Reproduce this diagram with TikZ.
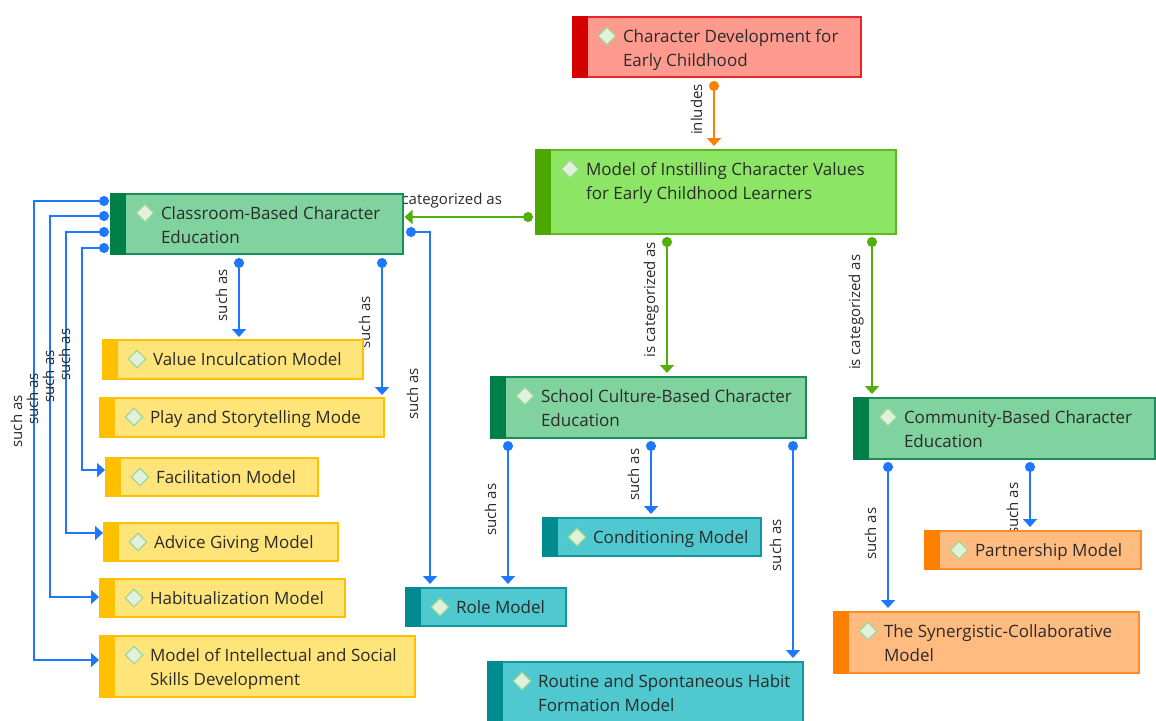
\documentclass[tikz,border=0pt]{standalone}
\usepackage{fontspec}
\setmainfont{Open Sans}
\usetikzlibrary{arrows.meta,calc}
\definecolor{txt}{HTML}{2B2B2B}
\definecolor{redfill}{HTML}{FF9A8E}
\definecolor{redstripe}{HTML}{D50000}
\definecolor{redline}{HTML}{E8262B}
\definecolor{lgfill}{HTML}{8CE564}
\definecolor{lgstripe}{HTML}{4CA800}
\definecolor{lgline}{HTML}{5CB91E}
\definecolor{mgfill}{HTML}{80D29E}
\definecolor{mgstripe}{HTML}{008048}
\definecolor{mgline}{HTML}{1E8C5A}
\definecolor{yfill}{HTML}{FFE47A}
\definecolor{ystripe}{HTML}{FFC000}
\definecolor{yline}{HTML}{FFC000}
\definecolor{tfill}{HTML}{4FC8D0}
\definecolor{tstripe}{HTML}{008B91}
\definecolor{tline}{HTML}{1496A0}
\definecolor{ofill}{HTML}{FFBB80}
\definecolor{ostripe}{HTML}{FF8000}
\definecolor{oline}{HTML}{FF8C28}
\definecolor{dmdfill}{HTML}{E1F2DC}
\definecolor{dmdline}{HTML}{A0D796}
\definecolor{blueline}{HTML}{1E78FF}
\definecolor{greenline}{HTML}{50AF0A}
\definecolor{orangeline}{HTML}{FF8000}
\pgfdeclarelayer{paper}
\pgfdeclarelayer{bg}
\pgfsetlayers{paper,bg,main}
\tikzset{
  cbox/.style={draw, line width=1.5pt, rectangle, anchor=north west, inner sep=0pt, outer sep=0pt},
  ctext/.style={anchor=north west, inner sep=0pt, outer sep=0pt, align=left, font=\fontsize{17}{24}\selectfont, text=txt},
  dmd/.style={draw=dmdline, fill=dmdfill, line width=1.2pt, minimum size=12.5pt, rotate=45, inner sep=0pt, rectangle},
  lbl/.style={font=\fontsize{15}{17}\selectfont, text=txt, rotate=90, anchor=south, text depth=0pt, inner xsep=0pt, inner ysep=11pt},
  hlbl/.style={font=\fontsize{15}{17}\selectfont, text=txt, anchor=south, text depth=0pt, inner xsep=0pt, inner ysep=12pt},
  tips/.style={{Circle[length=10pt]}-{Triangle[width=14pt,length=8pt]}},
  bedge/.style={draw=blueline, line width=1.6pt, tips},
  gedge/.style={draw=greenline, line width=1.6pt, tips},
  oedge/.style={draw=orangeline, line width=1.6pt, tips}
}
\newcommand\mmbox[9]{%
  \node[cbox, fill=#6, draw=#8, minimum width=#4pt, minimum height=#5pt] (#1) at (#2,#3) {};
  \fill[#7] ($(#1.north west)+(-0.75,-0.75)$) rectangle ($(#1.south west)+(15,0.75)$);
  \node[dmd] (#1-icon) at ($(#1.north west)+(34,19)$) {};
  \node[ctext] (#1-text) at ($(#1.north west)+(50,12)$) {\rule{0pt}{13pt}#9};
}
\begin{document}
\begin{tikzpicture}[x=1pt,y=-1pt]
\clip (0,0) rectangle (1156,720);
\begin{pgfonlayer}{paper}
\fill[white] (0,0) rectangle (1156,720);
\end{pgfonlayer}
\mmbox{top}{573}{17}{288}{60}{redfill}{redstripe}{redline}{Character Development for\\Early Childhood}
\mmbox{main}{536}{150}{360}{84}{lgfill}{lgstripe}{lgline}{Model of Instilling Character Values\\for Early Childhood Learners}
\mmbox{class}{111}{194}{292}{60}{mgfill}{mgstripe}{mgline}{Classroom-Based Character\\Education}
\mmbox{school}{491}{377}{315}{61}{mgfill}{mgstripe}{mgline}{School Culture-Based Character\\Education}
\mmbox{comm}{854}{398}{301}{61}{mgfill}{mgstripe}{mgline}{Community-Based Character\\Education}
\mmbox{value}{103}{340}{260}{39}{yfill}{ystripe}{yline}{Value Inculcation Model}
\mmbox{play}{100}{398}{284}{39}{yfill}{ystripe}{yline}{Play and Storytelling Mode}
\mmbox{facil}{106}{458}{212}{38}{yfill}{ystripe}{yline}{Facilitation Model}
\mmbox{advice}{104}{523}{234}{38}{yfill}{ystripe}{yline}{Advice Giving Model}
\mmbox{habit}{100}{579}{245}{38}{yfill}{ystripe}{yline}{Habitualization Model}
\mmbox{intel}{100}{636}{315}{61}{yfill}{ystripe}{yline}{Model of Intellectual and Social\\Skills Development}
\mmbox{role}{406}{588}{160}{38}{tfill}{tstripe}{tline}{Role Model}
\mmbox{cond}{543}{518}{218}{38}{tfill}{tstripe}{tline}{Conditioning Model}
\mmbox{routine}{488}{662}{315}{60}{tfill}{tstripe}{tline}{Routine and Spontaneous Habit\\Formation Model}
\mmbox{partner}{925}{531}{216}{38}{ofill}{ostripe}{oline}{Partnership Model}
\mmbox{syn}{834}{612}{305}{61}{ofill}{ostripe}{oline}{The Synergistic-Collaborative\\Model}
\begin{pgfonlayer}{bg}
\draw[oedge] ($(top.south west)+(141,4)$) -- ($(main.north west)+(178,-4)$) node[lbl,pos=0.44]{inludes};
\draw[gedge] ($(main.north west)+(-3,67)$) -- ($(class.north east)+(1.5,23)$) node[hlbl,pos=0.69]{is categorized as};
\draw[gedge] ($(main.south west)+(131,3)$) -- ($(school.north west)+(176,-4)$) node[lbl,pos=0.46]{is categorized as};
\draw[gedge] ($(main.south west)+(336,3)$) -- ($(comm.north west)+(18,-4)$) node[lbl,pos=0.48]{is categorized as};
\draw[bedge] ($(class.south west)+(128,4)$) -- ($(value.north west)+(136,-3)$) node[lbl,pos=0.47]{such as};
\draw[bedge] ($(class.south west)+(271,4)$) -- ($(play.north west)+(282,-3)$) node[lbl,pos=0.47]{such as};
\draw[bedge] ($(class.north east)+(3,38)$) -| ($(role.north west)+(24,-4)$) node[lbl,pos=0.73]{such as};
\draw[bedge] ($(class.north west)+(-2,7)$) -- ++(-75,0) |- ($(intel.north west)+(-1,24)$) node[lbl,pos=0.24]{such as};
\draw[bedge] ($(class.north west)+(-2,22)$) -- ++(-59,0) |- ($(habit.north west)+(-1,18)$) node[lbl,pos=0.24]{such as};
\draw[bedge] ($(class.north west)+(-2,38)$) -- ++(-43,0) |- ($(advice.north west)+(-1,10)$) node[lbl,pos=0.24]{such as};
\draw[bedge] ($(class.north west)+(-2,54)$) -- ++(-27,0) |- ($(facil.north west)+(-1,12)$) node[lbl,pos=0.24]{such as};
\draw[bedge] ($(school.south west)+(17,3)$) -- ($(role.north west)+(102,-4)$) node[lbl,pos=0.48]{such as};
\draw[bedge] ($(school.south west)+(160,3)$) -- ($(cond.north west)+(108,-4)$) node[lbl,pos=0.46]{such as};
\draw[bedge] ($(school.south west)+(302,3)$) -- ($(routine.north west)+(305,-4)$) node[lbl,pos=0.48]{such as};
\draw[bedge] ($(comm.south west)+(34,3)$) -- ($(syn.north west)+(54,-4)$) node[lbl,pos=0.49]{such as};
\draw[bedge] ($(comm.south west)+(176,3)$) -- ($(partner.north west)+(105,-4)$) node[lbl,pos=0.72]{such as};
\end{pgfonlayer}
\end{tikzpicture}
\end{document}
